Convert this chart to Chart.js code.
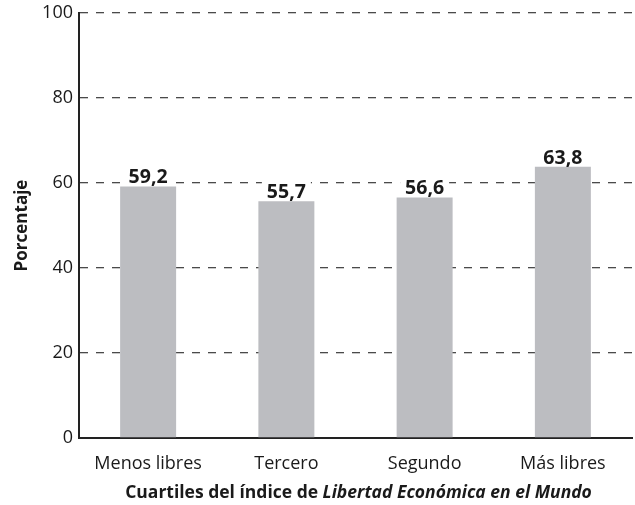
<!DOCTYPE html>
<html><head><meta charset="utf-8">
<script src="https://cdn.jsdelivr.net/npm/chart.js@4"></script>
<style>html,body{margin:0;padding:0;background:#fff}#wrap{width:635px;height:505px}</style>
</head><body><div id="wrap"><canvas id="c" width="635" height="505"></canvas></div>
<script>
const categories = ["Menos libres", "Tercero", "Segundo", "Más libres"];
const values = [59.2, 55.7, 56.6, 63.8];
const yTicks = [0, 20, 40, 60, 80, 100];
const yTitle = "Porcentaje";
const xTitleParts = [["Cuartiles del índice de ", "bold"], ["Libertad Económica en el Mundo", "italic bold"]];
const FONT = "'Open Sans', 'Noto Sans', sans-serif";

const labelPlugin = {
  id: 'labels',
  afterDatasetsDraw(chart) {
    const ctx = chart.ctx;
    const meta = chart.getDatasetMeta(0);
    ctx.save();
    ctx.font = "bold 19.5px " + FONT;
    ctx.textAlign = 'center';
    ctx.textBaseline = 'bottom';
    meta.data.forEach((bar, i) => {
      const txt = values[i].toFixed(1).replace('.', ',');
      const w = ctx.measureText(txt).width;
      ctx.fillStyle = '#fff';
      ctx.fillRect(bar.x - w/2 - 5, bar.y - 24, w + 10, 22);
      ctx.fillStyle = '#1a1a1a';
      ctx.fillText(txt, bar.x, bar.y + 1);
    });
    const ca = chart.chartArea;
    const parts = xTitleParts.map(p => { ctx.font = p[1] + " 17.5px " + FONT; return [p[0], p[1], ctx.measureText(p[0]).width]; });
    const total = parts.reduce((a, p) => a + p[2], 0);
    let x = (ca.left + ca.right) / 2 - total / 2 + 3;
    ctx.textAlign = 'left';
    ctx.textBaseline = 'middle';
    ctx.fillStyle = '#1a1a1a';
    parts.forEach(p => { ctx.font = p[1] + " 17.5px " + FONT; ctx.fillText(p[0], x, 493); x += p[2]; });
    ctx.save();
    ctx.translate(22, (ca.top + ca.bottom) / 2);
    ctx.rotate(-Math.PI / 2);
    ctx.textAlign = 'center';
    ctx.font = "bold 17px " + FONT;
    ctx.fillText(yTitle, 0, 0);
    ctx.restore();
    ctx.restore();
  }
};

new Chart(document.getElementById('c'), {
  type: 'bar',
  data: { labels: categories, datasets: [{ data: values, backgroundColor: '#bcbdc1', categoryPercentage: 0.81, barPercentage: 0.5 }] },
  options: {
    responsive: false, animation: false,
    layout: { padding: { top: 13, right: 3, left: 0, bottom: 0 } },
    plugins: { legend: { display: false }, tooltip: { enabled: false } },
    scales: {
      x: {
        grid: { display: false, drawTicks: false },
        border: { color: '#222', width: 2 },
        ticks: { color: '#1a1a1a', font: { family: FONT, size: 18 }, padding: 15 },
        afterFit(s) { s.height = 67; }
      },
      y: {
        min: 0, max: 100,
        afterBuildTicks(s) { s.ticks = yTicks.map(v => ({ value: v })); },
        grid: { color: (c) => c.tick && c.tick.value === 0 ? 'rgba(0,0,0,0)' : '#4a4a4a', lineWidth: 1.3, drawTicks: false },
        border: { color: '#222', width: 2, dash: [8, 8] },
        ticks: { color: '#1a1a1a', font: { family: FONT, size: 18 }, padding: 6 },
        afterFit(s) { s.width = 79; s.paddingTop = 0; s.paddingBottom = 0; }
      }
    }
  },
  plugins: [labelPlugin]
});
</script></body></html>
